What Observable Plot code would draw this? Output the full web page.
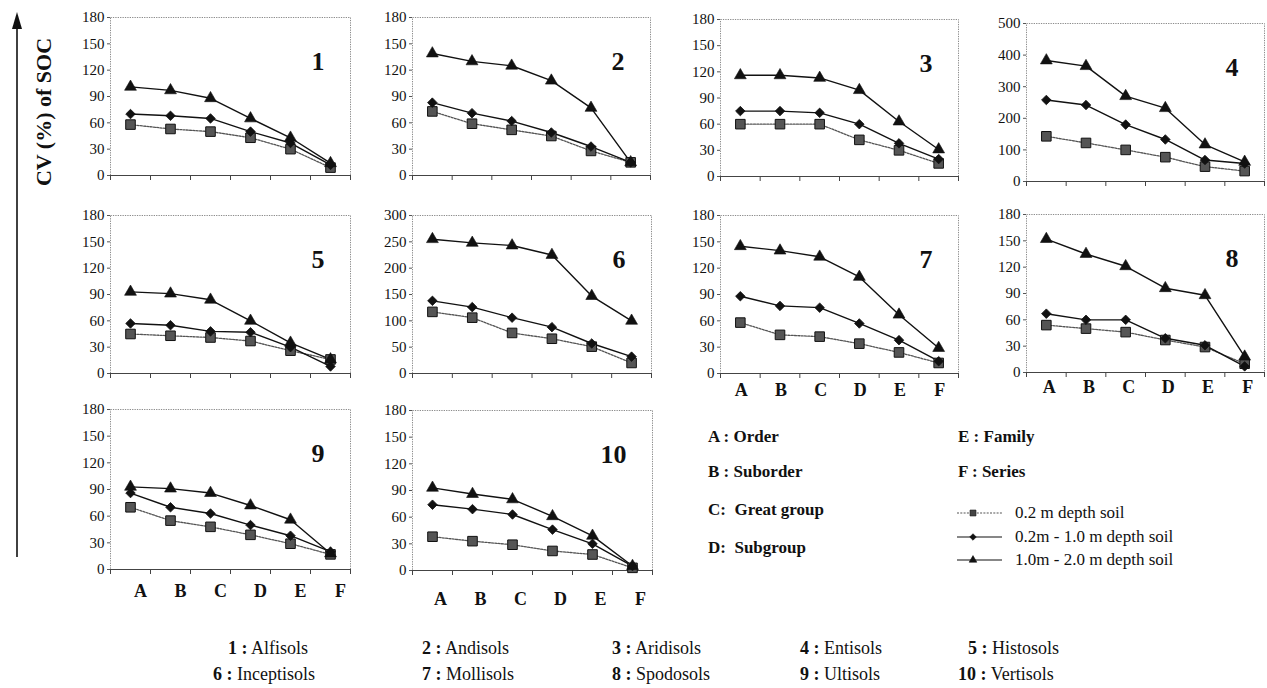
<!DOCTYPE html>
<html><head><meta charset="utf-8">
<script src="https://cdn.jsdelivr.net/npm/d3@7"></script>
<script src="https://cdn.jsdelivr.net/npm/@observablehq/plot@0.6"></script>
<style>
body{margin:0;background:#fff;font-family:"Liberation Serif","Times New Roman",Times,serif;}
#page{position:relative;width:1267px;height:688px;overflow:hidden;background:#fff;}
#page svg text{font-family:"Liberation Serif","Times New Roman",Times,serif;}
.panel{position:absolute;}
.t{position:absolute;white-space:nowrap;color:#111;line-height:20px;font-family:"Liberation Serif","Times New Roman",Times,serif;}
</style></head><body><div id="page"></div>
<script>
// ---------- DATA ----------
const categories = ["A", "B", "C", "D", "E", "F"];
const categoryNames = ["Order", "Suborder", "Great group", "Subgroup", "Family", "Series"];
const soilOrders = ["Alfisols", "Andisols", "Aridisols", "Entisols", "Histosols",
                    "Inceptisols", "Mollisols", "Spodosols", "Ultisols", "Vertisols"];
const depthLabels = ["0.2 m depth soil", "0.2m - 1.0 m depth soil", "1.0m - 2.0 m depth soil"];

// CV (%) of SOC, one row per soil order (panels 1..10), columns A..F
const cvDepth0to02 = [
  [58, 53, 50, 43, 30, 9],
  [73, 59, 52, 45, 28, 15],
  [60, 60, 60, 42, 30, 15],
  [143, 122, 100, 77, 47, 33],
  [45, 43, 41, 37, 26, 16],
  [117, 106, 77, 66, 51, 20],
  [58, 44, 42, 34, 24, 12],
  [54, 50, 46, 37, 29, 10],
  [70, 55, 48, 39, 29, 17],
  [38, 33, 29, 22, 18, 3]
];
const cvDepth02to10 = [
  [70, 68, 65, 50, 37, 12],
  [83, 71, 62, 49, 33, 15],
  [75, 75, 73, 60, 38, 20],
  [258, 242, 180, 133, 68, 57],
  [57, 55, 48, 47, 30, 8],
  [138, 126, 106, 88, 57, 32],
  [88, 77, 75, 57, 38, 14],
  [67, 60, 60, 39, 31, 7],
  [86, 70, 63, 50, 38, 20],
  [74, 69, 63, 46, 30, 5]
];
const cvDepth10to20 = [
  [101, 97, 88, 65, 43, 14],
  [139, 130, 125, 108, 77, 15],
  [116, 116, 113, 99, 63, 31],
  [383, 365, 270, 232, 117, 62],
  [93, 91, 84, 60, 35, 16],
  [255, 248, 243, 225, 147, 100],
  [145, 140, 133, 110, 67, 29],
  [152, 135, 121, 96, 88, 18],
  [93, 91, 86, 72, 56, 18],
  [93, 86, 80, 61, 39, 5]
];
const yMaxes = [180, 180, 180, 500, 180, 300, 180, 180, 180, 180];
const yTickSteps = [30, 30, 30, 100, 30, 50, 30, 30, 30, 30];

// ---------- LAYOUT (frame edges in page px) ----------
const layout = [
  {l:110, r:350, t:17, b:175, lab:0, ldx:0},
  {l:412, r:650, t:17, b:175, lab:0, ldx:0},
  {l:720, r:958, t:19, b:176, lab:0, ldx:0},
  {l:1026, r:1264, t:23, b:181, lab:0, ldx:0},
  {l:110, r:350, t:215, b:373, lab:0, ldx:0},
  {l:412, r:651, t:215, b:373, lab:0, ldx:0},
  {l:720, r:958, t:215, b:373, lab:10, ldx:1},
  {l:1026, r:1264, t:214, b:372, lab:8, ldx:3},
  {l:110, r:350, t:409, b:569, lab:15, ldx:10},
  {l:412, r:652, t:410, b:570, lab:22, ldx:8}
];

const page = document.getElementById("page");
const series = [cvDepth0to02, cvDepth02to10, cvDepth10to20];
const ML = 46, MR = 4, MT = 10, MB = 40;
const SERIF = "Liberation Serif";

layout.forEach((L, k) => {
  const rows = [];
  series.forEach((s, d) => s[k].forEach((v, i) => rows.push({depth: d, cat: categories[i], xi: i + 0.5, value: v})));
  const byDepth = d => rows.filter(r => r.depth === d);
  const marks = [
    Plot.frame({stroke: "#8c8c8c", strokeDasharray: "1.3,1.1"}),
    Plot.axisY({ticks: d3.range(0, yMaxes[k] + 1, yTickSteps[k]), tickSize: 3, tickPadding: 3, label: null,
                fontSize: 15, fontFamily: SERIF, stroke: "#555", fill: "#111"}),
    Plot.axisX({ticks: d3.range(0, 7), tickFormat: () => "", tickSize: 5, label: null, stroke: "#444"}),
    Plot.ruleY([0], {stroke: "#444", strokeWidth: 1.2})
  ];
  if (L.lab) {
    marks.push(Plot.axisX({ticks: categories.map((c, i) => i + 0.5), tickFormat: d => categories[Math.floor(d)],
      tickSize: 0, tickPadding: L.lab, dx: L.ldx, label: null, fontSize: 18, fontWeight: "bold", fontFamily: SERIF, fill: "#111"}));
  }
  marks.push(
    Plot.line(byDepth(0), {x: "xi", y: "value", stroke: "#555", strokeWidth: 1.3, strokeDasharray: "2,1.3"}),
    Plot.line(byDepth(1), {x: "xi", y: "value", stroke: "#111", strokeWidth: 1.4}),
    Plot.line(byDepth(2), {x: "xi", y: "value", stroke: "#111", strokeWidth: 1.4}),
    Plot.dot(byDepth(0), {x: "xi", y: "value", symbol: "square", r: 5.4, fill: "#555", stroke: "#111", strokeWidth: 1}),
    Plot.dot(byDepth(1), {x: "xi", y: "value", symbol: "diamond2", r: 4.3, fill: "#111", stroke: "#111", strokeWidth: 0.8}),
    Plot.dot(byDepth(2), {x: "xi", y: "value", symbol: "triangle", r: 4.4, fill: "#111", stroke: "#111", strokeWidth: 0.6}),
    Plot.text([String(k + 1)], {frameAnchor: "top-right", dx: -26, dy: 44, lineAnchor: "middle",
      fontSize: 26, fontWeight: "bold", fontFamily: SERIF, fill: "#111"})
  );
  const w = L.r - L.l, h = L.b - L.t;
  const svg = Plot.plot({
    width: w + ML + MR, height: h + MT + MB,
    marginLeft: ML, marginRight: MR, marginTop: MT, marginBottom: MB,
    style: {fontFamily: SERIF, fontSize: "15px", color: "#111", background: "transparent", overflow: "visible"},
    x: {type: "linear", domain: [0, 6]},
    y: {domain: [0, yMaxes[k]]},
    marks
  });
  svg.classList.add("panel");
  svg.style.left = (L.l - ML) + "px";
  svg.style.top = (L.t - MT) + "px";
  page.appendChild(svg);
});

// ---------- Y label + arrow ----------
const ns = "http://www.w3.org/2000/svg";
const arrow = document.createElementNS(ns, "svg");
arrow.setAttribute("width", 30); arrow.setAttribute("height", 570);
arrow.style.position = "absolute"; arrow.style.left = "2px"; arrow.style.top = "0px";
arrow.innerHTML = '<line x1="15" y1="24" x2="15" y2="557" stroke="#111" stroke-width="1.6"/>' +
                  '<polygon points="15,12 10,29 20,29" fill="#111"/>';
page.appendChild(arrow);
const yl = document.createElement("div");
yl.className = "t";
yl.textContent = "CV (%) of SOC";
Object.assign(yl.style, {left: "44px", top: "112px", fontSize: "22px", fontWeight: "bold",
  transform: "translate(-50%,-50%) rotate(-90deg)"});
page.appendChild(yl);

// ---------- Category legend ----------
const catPos = [[708,437],[708,472],[708,510],[708,548],[958,437],[958,472]];
categories.forEach((c, i) => {
  const d = document.createElement("div");
  d.className = "t";
  const sep = (i === 2 || i === 3) ? ":\u00a0\u00a0" : " : ";
  d.textContent = c + sep + categoryNames[i];
  Object.assign(d.style, {left: catPos[i][0] + "px", top: (catPos[i][1] - 10) + "px", fontSize: "17px", fontWeight: "bold"});
  page.appendChild(d);
});

// ---------- Series legend ----------
const symbols = [d3.symbolSquare, d3.symbolDiamond2, d3.symbolTriangle];
const symSizes = [70, 55, 50];
const dash = ["2,1.3", null, null];
const serY = [513, 537, 560];
depthLabels.forEach((lab, i) => {
  const s = document.createElementNS(ns, "svg");
  s.setAttribute("width", 48); s.setAttribute("height", 14);
  Object.assign(s.style, {position: "absolute", left: "956px", top: (serY[i] - 7) + "px"});
  const p = d3.symbol(symbols[i], symSizes[i] * 0.5)();
  s.innerHTML = `<line x1="1" y1="7" x2="46" y2="7" stroke="${i ? '#111' : '#555'}" stroke-width="1.2" ${dash[i] ? `stroke-dasharray="${dash[i]}"` : ""}/>` +
    `<path d="${p}" transform="translate(17,7)" fill="${i ? '#111' : '#444'}" stroke="#111" stroke-width="0.6"/>`;
  page.appendChild(s);
  const d = document.createElement("div");
  d.className = "t";
  d.textContent = lab;
  Object.assign(d.style, {left: "1015px", top: (serY[i] - 10) + "px", fontSize: "17px"});
  page.appendChild(d);
});

// ---------- Soil order caption ----------
const capX = [[228, 422, 612, 800, 968], [213, 422, 612, 800, 958]];
const capY = [648, 674];
soilOrders.forEach((name, i) => {
  const row = Math.floor(i / 5), col = i % 5;
  const d = document.createElement("div");
  d.className = "t";
  d.innerHTML = `<b>${i + 1} :</b> ${name}`;
  Object.assign(d.style, {left: capX[row][col] + "px", top: (capY[row] - 10) + "px", fontSize: "18px"});
  page.appendChild(d);
});
</script></body></html>
